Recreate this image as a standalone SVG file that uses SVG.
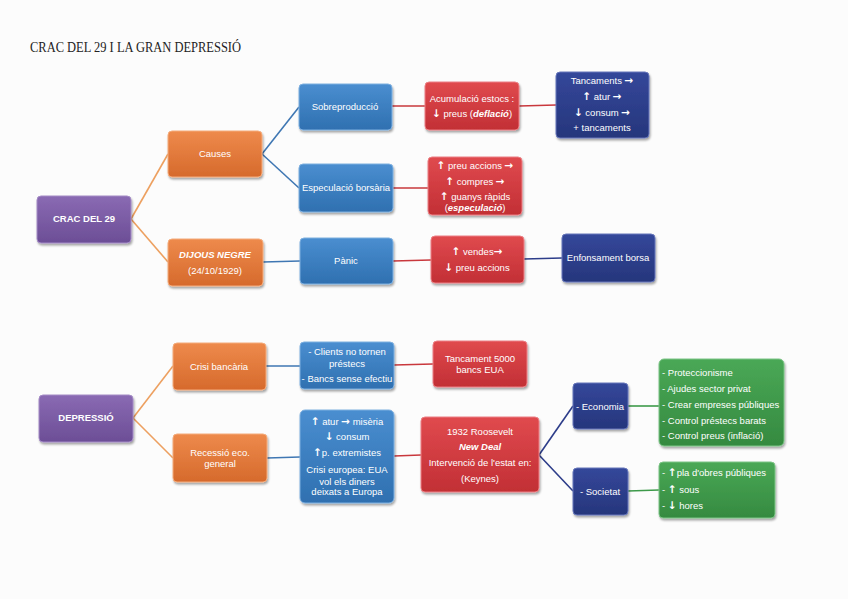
<svg xmlns="http://www.w3.org/2000/svg" width="848" height="599" viewBox="0 0 848 599">
<defs>
<linearGradient id="gP" x1="0" y1="0" x2="0" y2="1"><stop offset="0" stop-color="#8a6ab3"/><stop offset="1" stop-color="#6c4e96"/></linearGradient>
<linearGradient id="gO" x1="0" y1="0" x2="0" y2="1"><stop offset="0" stop-color="#ee8a4c"/><stop offset="1" stop-color="#d66a2c"/></linearGradient>
<linearGradient id="gB" x1="0" y1="0" x2="0" y2="1"><stop offset="0" stop-color="#4a8ed0"/><stop offset="1" stop-color="#2f70b0"/></linearGradient>
<linearGradient id="gR" x1="0" y1="0" x2="0" y2="1"><stop offset="0" stop-color="#e04a4e"/><stop offset="1" stop-color="#c22f35"/></linearGradient>
<linearGradient id="gN" x1="0" y1="0" x2="0" y2="1"><stop offset="0" stop-color="#34479a"/><stop offset="1" stop-color="#26367c"/></linearGradient>
<linearGradient id="gG" x1="0" y1="0" x2="0" y2="1"><stop offset="0" stop-color="#4aa856"/><stop offset="1" stop-color="#358a40"/></linearGradient>
<filter id="sh" x="-10%" y="-10%" width="130%" height="140%"><feDropShadow dx="1" dy="2" stdDeviation="1.2" flood-color="#000" flood-opacity="0.35"/></filter>
</defs>
<style>
.n{stroke-width:1;filter:url(#sh)}
.p{fill:url(#gP);stroke:#a48bc6}
.o{fill:url(#gO);stroke:#f4ac7c}
.b{fill:url(#gB);stroke:#7fb0e0}
.r{fill:url(#gR);stroke:#ec8085}
.v{fill:url(#gN);stroke:#6677bb}
.g{fill:url(#gG);stroke:#7cc486}
text{font-family:"Liberation Sans",Arial,sans-serif;font-size:9.5px;fill:#fff;text-anchor:middle}
.l{text-anchor:start}
.bd{font-weight:bold}
.bi{font-weight:bold;font-style:italic}
.a{font-family:"DejaVu Sans",sans-serif;font-weight:bold;font-size:10.5px}
.t{font-family:"Liberation Serif","Times New Roman",serif;font-size:14.5px;fill:#222;text-anchor:start}
.c line{stroke-width:1.6;fill:none}
.co{stroke:#eda060}
.cb{stroke:#3f77b3}
.cr{stroke:#c9383d}
.cn{stroke:#2d3d8a}
.cg{stroke:#3d9a4a}
</style>
<rect width="848" height="599" fill="#fcfcfc"/>
<text class="t" x="30" y="52" textLength="211" lengthAdjust="spacingAndGlyphs">CRAC DEL 29 I LA GRAN DEPRESSIÓ</text>

<g class="c" id="connectors">
<line class="co" x1="131" y1="219" x2="168" y2="154"/>
<line class="co" x1="131" y1="219" x2="168" y2="262"/>
<line class="cb" x1="262" y1="154" x2="299" y2="107"/>
<line class="cb" x1="262" y1="154" x2="299" y2="188"/>
<line class="cb" x1="263" y1="262" x2="300" y2="261"/>
<line class="cr" x1="392" y1="106" x2="425" y2="106"/>
<line class="cr" x1="519" y1="106" x2="556" y2="105"/>
<line class="cr" x1="393" y1="188" x2="428" y2="188"/>
<line class="cr" x1="393" y1="261" x2="431" y2="260"/>
<line class="cn" x1="524" y1="259" x2="562" y2="258"/>
<line class="co" x1="133" y1="418" x2="173" y2="366"/>
<line class="co" x1="133" y1="418" x2="173" y2="458"/>
<line class="cb" x1="266" y1="366" x2="300" y2="366"/>
<line class="cb" x1="267" y1="458" x2="300" y2="457"/>
<line class="cr" x1="394" y1="365" x2="433" y2="364"/>
<line class="cr" x1="394" y1="456" x2="421" y2="455"/>
<line class="cn" x1="539" y1="455" x2="573" y2="406"/>
<line class="cn" x1="539" y1="455" x2="573" y2="491"/>
<line class="cg" x1="628" y1="406" x2="659" y2="406"/>
<line class="cg" x1="628" y1="491" x2="659" y2="490"/>
</g>

<g id="crac"><rect class="n p" x="37" y="196" width="94" height="47" rx="4"/><text class="bd" x="84" y="222">CRAC DEL 29</text></g>
<g id="causes"><rect class="n o" x="168" y="131" width="94" height="46" rx="4"/><text x="215" y="157">Causes</text></g>
<g id="dijous"><rect class="n o" x="168" y="239" width="95" height="47" rx="4"/><text class="bi" x="215" y="258">DIJOUS NEGRE</text><text x="215" y="274">(24/10/1929)</text></g>
<g id="sobre"><rect class="n b" x="299" y="84" width="93" height="46" rx="4"/><text x="345" y="110">Sobreproducció</text></g>
<g id="espec"><rect class="n b" x="299" y="164" width="94" height="48" rx="4"/><text x="346" y="191">Especulació borsària</text></g>
<g id="acum"><rect class="n r" x="425" y="82" width="94" height="48" rx="4"/><text x="472" y="102">Acumulació estocs :</text><text x="472" y="117"><tspan class="a">↓</tspan> preus (<tspan class="bi">deflació</tspan>)</text></g>
<g id="tanc"><rect class="n v" x="556" y="72" width="93" height="66" rx="4"/><text x="602" y="84">Tancaments <tspan class="a">→</tspan></text><text x="602" y="100"><tspan class="a">↑</tspan> atur <tspan class="a">→</tspan></text><text x="602" y="116"><tspan class="a">↓</tspan> consum <tspan class="a">→</tspan></text><text x="602" y="131">+ tancaments</text></g>
<g id="preu"><rect class="n r" x="428" y="157" width="94" height="58" rx="4"/><text x="475" y="169"><tspan class="a">↑</tspan> preu accions <tspan class="a">→</tspan></text><text x="475" y="185"><tspan class="a">↑</tspan> compres <tspan class="a">→</tspan></text><text x="475" y="200"><tspan class="a">↑</tspan> guanys ràpids</text><text x="475" y="211">(<tspan class="bi">especulació</tspan>)</text></g>
<g id="panic"><rect class="n b" x="300" y="238" width="93" height="46" rx="4"/><text x="346" y="264">Pànic</text></g>
<g id="vendes"><rect class="n r" x="431" y="236" width="93" height="47" rx="4"/><text x="477" y="255"><tspan class="a">↑</tspan> vendes<tspan class="a">→</tspan></text><text x="477" y="271"><tspan class="a">↓</tspan> preu accions</text></g>
<g id="enfons"><rect class="n v" x="562" y="234" width="93" height="48" rx="4"/><text x="608" y="261">Enfonsament borsa</text></g>

<g id="depressio"><rect class="n p" x="39" y="395" width="94" height="47" rx="4"/><text class="bd" x="86" y="421">DEPRESSIÓ</text></g>
<g id="crisi"><rect class="n o" x="173" y="343" width="93" height="47" rx="4"/><text x="219" y="370">Crisi bancària</text></g>
<g id="recessio"><rect class="n o" x="173" y="434" width="94" height="48" rx="4"/><text x="220" y="456">Recessió eco.</text><text x="220" y="467">general</text></g>
<g id="clients"><rect class="n b" x="300" y="342" width="94" height="47" rx="4"/><text x="347" y="355">- Clients no tornen</text><text x="347" y="367">préstecs</text><text x="347" y="382">- Bancs sense efectiu</text></g>
<g id="atur"><rect class="n b" x="300" y="410" width="94" height="93" rx="5"/><text x="347" y="425"><tspan class="a">↑</tspan> atur <tspan class="a">→</tspan> misèria</text><text x="347" y="440"><tspan class="a">↓</tspan> consum</text><text x="347" y="456"><tspan class="a">↑</tspan>p. extremistes</text><text x="347" y="473">Crisi europea: EUA</text><text x="347" y="485">vol els diners</text><text x="347" y="495">deixats a Europa</text></g>
<g id="tanc5000"><rect class="n r" x="433" y="341" width="94" height="46" rx="4"/><text x="480" y="362">Tancament 5000</text><text x="480" y="373">bancs EUA</text></g>
<g id="roosevelt"><rect class="n r" x="421" y="417" width="118" height="75" rx="4"/><text x="480" y="435">1932 Roosevelt</text><text class="bi" x="480" y="450">New Deal</text><text x="480" y="466">Intervenció de l'estat en:</text><text x="480" y="482">(Keynes)</text></g>
<g id="economia"><rect class="n v" x="573" y="383" width="55" height="46" rx="4"/><text x="600" y="410">- Economia</text></g>
<g id="societat"><rect class="n v" x="573" y="468" width="55" height="47" rx="4"/><text x="600" y="495">- Societat</text></g>
<g id="eco-list"><rect class="n g" x="659" y="359" width="125" height="87" rx="5"/><text class="l" x="662" y="376">- Proteccionisme</text><text class="l" x="662" y="392">- Ajudes sector privat</text><text class="l" x="662" y="408">- Crear empreses públiques</text><text class="l" x="662" y="424">- Control préstecs barats</text><text class="l" x="662" y="439">- Control preus (inflació)</text></g>
<g id="soc-list"><rect class="n g" x="659" y="462" width="116" height="56" rx="4"/><text class="l" x="662" y="476">- <tspan class="a">↑</tspan>pla d'obres públiques</text><text class="l" x="662" y="493">- <tspan class="a">↑</tspan> sous</text><text class="l" x="662" y="509">- <tspan class="a">↓</tspan> hores</text></g>
</svg>
